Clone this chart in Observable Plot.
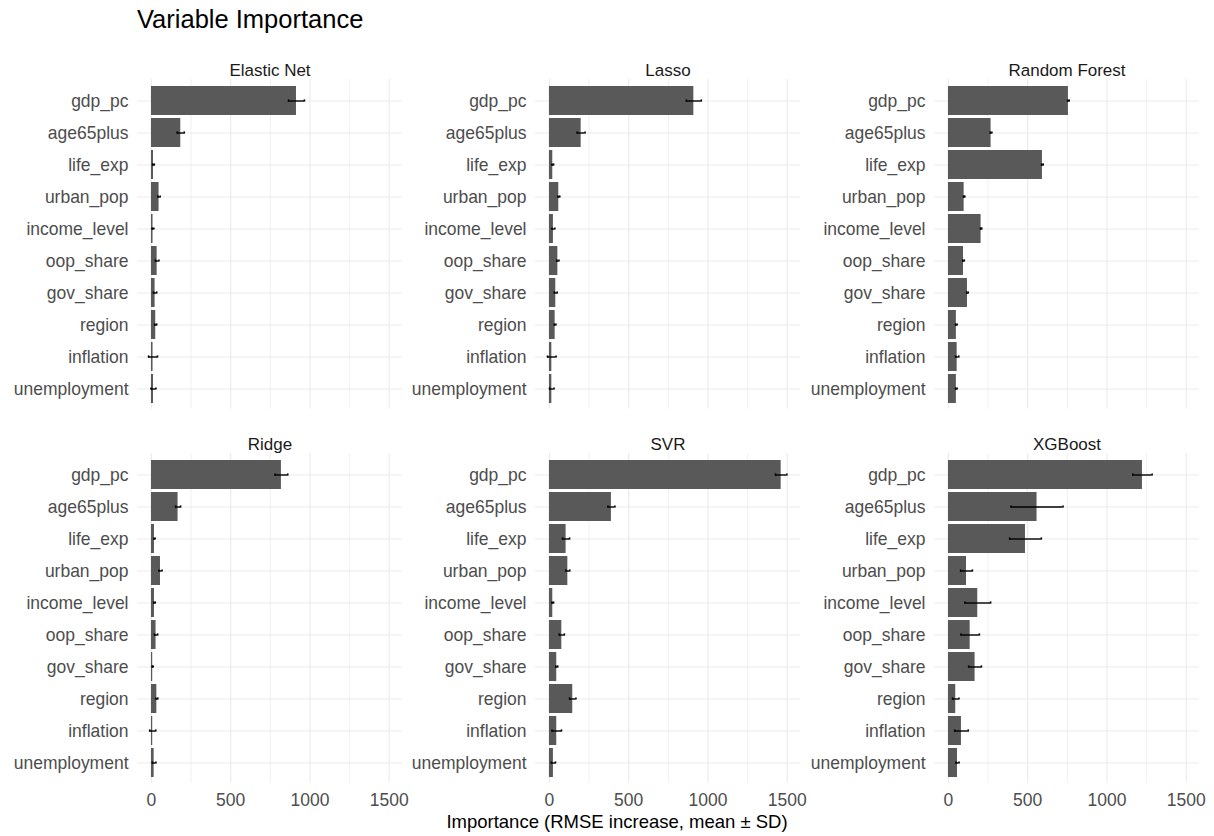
<!DOCTYPE html>
<html>
<head>
<meta charset="utf-8">
<script src="https://cdn.jsdelivr.net/npm/d3@7"></script>
<script src="https://cdn.jsdelivr.net/npm/@observablehq/plot@0.6"></script>
<style>
  html, body { margin: 0; padding: 0; background: #ffffff; }
  #root { position: relative; width: 1214px; height: 836px; overflow: hidden; font-family: 'Liberation Sans', Arial, sans-serif; }
  .panel { position: absolute; }
  #title { position: absolute; left: 137px; top: 5px; font-size: 25.5px; color: #000; white-space: nowrap; }
  #xtitle { position: absolute; left: 617px; top: 811px; transform: translateX(-50%); font-size: 18.5px; color: #000; white-space: nowrap; }
</style>
</head>
<body>
<div id="root">
  <div id="title">Variable Importance</div>
  <div id="xtitle">Importance (RMSE increase, mean ± SD)</div>
</div>
<script>
const variables = ["gdp_pc", "age65plus", "life_exp", "urban_pop", "income_level", "oop_share", "gov_share", "region", "inflation", "unemployment"];
const models = ["Elastic Net", "Lasso", "Random Forest", "Ridge", "SVR", "XGBoost"];

const elasticNetMean = [915, 185, 13, 48, 10, 36, 23, 27, 10, 13];
const elasticNetSD   = [50, 22, 5, 7, 5, 11, 10, 6, 28, 15];
const lassoMean      = [911, 200, 21, 59, 25, 53, 40, 36, 15, 15];
const lassoSD        = [47, 25, 5, 6, 9, 7, 9, 5, 27, 14];
const randomForestMean = [757, 269, 593, 99, 206, 95, 120, 50, 55, 50];
const randomForestSD   = [5, 5, 5, 4, 4, 5, 5, 5, 10, 5];
const ridgeMean      = [820, 168, 19, 57, 19, 29, 8, 34, 8, 17];
const ridgeSD        = [40, 16, 4, 10, 5, 10, 3, 6, 19, 11];
const svrMean        = [1462, 391, 105, 116, 21, 78, 46, 147, 46, 25];
const svrSD          = [36, 22, 22, 12, 5, 16, 6, 20, 30, 13];
const xgboostMean    = [1224, 559, 486, 114, 185, 137, 168, 46, 82, 57];
const xgboostSD      = [61, 164, 100, 37, 81, 58, 40, 20, 43, 10];

const xTicks = [0, 500, 1000, 1500];
const xMinorTicks = [250, 750, 1250];

const means = [elasticNetMean, lassoMean, randomForestMean, ridgeMean, svrMean, xgboostMean];
const sds = [elasticNetSD, lassoSD, randomForestSD, ridgeSD, svrSD, xgboostSD];

const FONT = "'Liberation Sans', Arial, sans-serif";
const panelW = 265, panelH = 329.8;
const mLeft = 130, mTop = 36;
const colLeft = [136.7, 535.3, 934.3];
const rowTop = [79.3, 453.4];

const root = document.getElementById("root");

models.forEach((model, i) => {
  const row = Math.floor(i / 3), col = i % 3;
  const data = variables.map((v, j) => ({variable: v, mean: means[i][j], sd: sds[i][j]}));
  const bottom = row === 1;
  const mBottom = bottom ? 30 : 2;
  const marks = [
    Plot.gridY({stroke: "#EBEBEB", strokeOpacity: 1, strokeWidth: 1.1}),
    Plot.ruleX(xMinorTicks, {stroke: "#EBEBEB", strokeOpacity: 1, strokeWidth: 0.7}),
    Plot.ruleX(xTicks, {stroke: "#EBEBEB", strokeOpacity: 1, strokeWidth: 1.1}),
    Plot.barX(data, {x: "mean", y: "variable", fill: "#595959"}),
    Plot.ruleY(data, {y: "variable", x1: d => d.mean - d.sd, x2: d => d.mean + d.sd, stroke: "#000", strokeWidth: 1.4}),
    Plot.tickX(data, {x: d => d.mean - d.sd, y: "variable", stroke: "#000", strokeWidth: 1.6, insetTop: 13.4, insetBottom: 13.4}),
    Plot.tickX(data, {x: d => d.mean + d.sd, y: "variable", stroke: "#000", strokeWidth: 1.6, insetTop: 13.4, insetBottom: 13.4}),
    Plot.axisY({tickSize: 0, tickPadding: 9, label: null, fill: "#4D4D4D", fontSize: 17.5}),
    Plot.text([model], {frameAnchor: "top", dy: -16, fontSize: 17, fill: "#1A1A1A"})
  ];
  if (bottom) marks.push(Plot.axisX({ticks: xTicks, tickFormat: d => String(d), tickSize: 0, tickPadding: 10, label: null, fill: "#4D4D4D", fontSize: 17.5}));
  const chart = Plot.plot({
    width: mLeft + panelW,
    height: mTop + panelH + mBottom,
    marginLeft: mLeft,
    marginRight: 0,
    marginTop: mTop,
    marginBottom: mBottom,
    style: {fontFamily: FONT, fontSize: "17px", background: "transparent", color: "#4D4D4D", overflow: "visible"},
    x: {domain: [-88, 1584], axis: bottom ? undefined : null},
    y: {domain: variables, paddingInner: 0.1, paddingOuter: 0.15},
    marks
  });
  const wrap = document.createElement("div");
  wrap.className = "panel";
  wrap.style.left = (colLeft[col] - mLeft) + "px";
  wrap.style.top = (rowTop[row] - mTop) + "px";
  wrap.appendChild(chart);
  root.appendChild(wrap);
});
</script>
</body>
</html>
